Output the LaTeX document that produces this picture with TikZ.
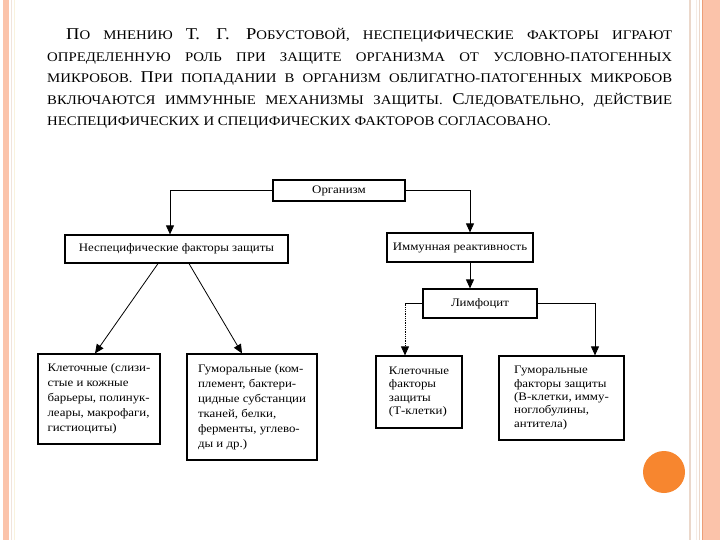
\documentclass[tikz,border=0pt]{standalone}
\usepackage{fontspec}
\setmainfont{Liberation Serif}
\newfontfamily\scanfont[FakeStretch=1.12]{Liberation Serif}
\usetikzlibrary{arrows.meta,calc}
\definecolor{slidepink}{HTML}{FBC3AA}
\definecolor{slideedge}{HTML}{EC9E78}
\definecolor{slidetan}{HTML}{EBD8CB}
\definecolor{dotorange}{HTML}{F7862F}
\newcommand\capl[1]{{\fontsize{16.5}{18}\selectfont #1}}

\begin{document}
\begin{tikzpicture}[x=1pt,y=-1pt,
    font=\scanfont\fontsize{11.5}{15}\selectfont,
    box/.style={draw,line width=1.2pt,inner sep=0pt},
    txtbox/.style={box,align=left,font=\scanfont\fontsize{11.5}{15}\selectfont},
    ttxtbox/.style={box,align=left,font=\scanfont\fontsize{11.5}{13.3}\selectfont},
    arr/.style={-{Triangle[length=9pt,width=8pt]},line width=0.8pt},
    textline/.style={anchor=base west,inner sep=0pt,
      font=\scanfont\fontsize{13.2}{15}\selectfont},
  ]
    \useasboundingbox (0,0) rectangle (720,540);
    \fill[white] (0,0) rectangle (720,540);

    % slide frame
    \fill[slidepink] (3,0) rectangle (9,540);
    \draw[slidetan!70,line width=0.8pt] (11,0) -- (11,540);
    \draw[yellow!15!slidetan!40,line width=0.8pt] (14,0) -- (14,540);
    \draw[slidetan,line width=1.5pt] (690,0) -- (690,540);
    \draw[slidetan!50,line width=1pt] (696,0) -- (696,540);
    \draw[slidetan,line width=1.5pt] (699.5,0) -- (699.5,540);
    \fill[slidepink] (702,0) rectangle (720,540);
    \draw[slideedge,line width=1pt] (702.5,0) -- (702.5,540);
    \fill[dotorange] (664,472) circle (21);

    % paragraph
    \node[textline] (l1) at (66,40) {\makebox[606pt][s]{\capl{П}О МНЕНИЮ \capl{Т. Г. Р}ОБУСТОВОЙ, НЕСПЕЦИФИЧЕСКИЕ ФАКТОРЫ ИГРАЮТ}};
    \node[textline] (l2) at (47,61.5) {\makebox[625pt][s]{ОПРЕДЕЛЕННУЮ РОЛЬ ПРИ ЗАЩИТЕ ОРГАНИЗМА ОТ УСЛОВНО-ПАТОГЕННЫХ}};
    \node[textline] (l3) at (47,83) {\makebox[625pt][s]{МИКРОБОВ. \capl{П}РИ ПОПАДАНИИ В ОРГАНИЗМ ОБЛИГАТНО-ПАТОГЕННЫХ МИКРОБОВ}};
    \node[textline] (l4) at (47,104.5) {\makebox[625pt][s]{ВКЛЮЧАЮТСЯ ИММУННЫЕ МЕХАНИЗМЫ ЗАЩИТЫ. \capl{С}ЛЕДОВАТЕЛЬНО, ДЕЙСТВИЕ}};
    \node[textline] (l5) at (47,126) {НЕСПЕЦИФИЧЕСКИХ И СПЕЦИФИЧЕСКИХ ФАКТОРОВ СОГЛАСОВАНО.};

    % scheme
    \node[box,minimum width=132,minimum height=21] (org) at (339,190.5) {Организм};
    \node[box,minimum width=223,minimum height=28] (nsp) at (176.5,249) {Неспецифические факторы защиты};
    \node[box,minimum width=146,minimum height=29] (imm) at (460,247.5) {Иммунная реактивность};
    \node[box,minimum width=114,minimum height=29] (lym) at (480,303.5) {Лимфоцит};
    \node[txtbox,minimum width=122,minimum height=90] (cellA) at (99,399)
      {Клеточные (слизи-\\стые и кожные\\барьеры, полинук-\\леары, макрофаги,\\гистиоциты)};
    \node[txtbox,minimum width=130,minimum height=106] (humA) at (252,407)
      {Гуморальные (ком-\\племент, бактери-\\цидные субстанции\\тканей, белки,\\ферменты, углево-\\ды и др.)};
    \node[ttxtbox,minimum width=86,minimum height=72] (cellT) at (419,392)
      {Клеточные\\факторы\\защиты\\(Т-клетки)};
    \node[ttxtbox,minimum width=125,minimum height=84] (humB) at (561.5,398)
      {Гуморальные\\факторы защиты\\(В-клетки, имму-\\ноглобулины,\\антитела)};

    \draw[arr] (org.west) -| ([xshift=-6.5]nsp.north);
    \draw[arr] (org.east) -| ([xshift=10]imm.north);
    \draw[arr] ([xshift=10]imm.south) -- ([xshift=10]imm.south |- lym.north);
    \draw[arr] ([xshift=-18.5]nsp.south) -- ([xshift=-4]cellA.north);
    \draw[arr] ([xshift=12.5]nsp.south) -- ([xshift=-10]humA.north);
    \coordinate (tin) at ([xshift=-14]cellT.north);
    \draw[line width=0.8pt] (lym.west) -- (lym.west -| tin) coordinate (tbend);
    \draw[arr,densely dotted] (tbend) -- (tin);
    \draw[arr] (lym.east) -| ([xshift=33.5]humB.north);
  \end{tikzpicture}
\end{document}
